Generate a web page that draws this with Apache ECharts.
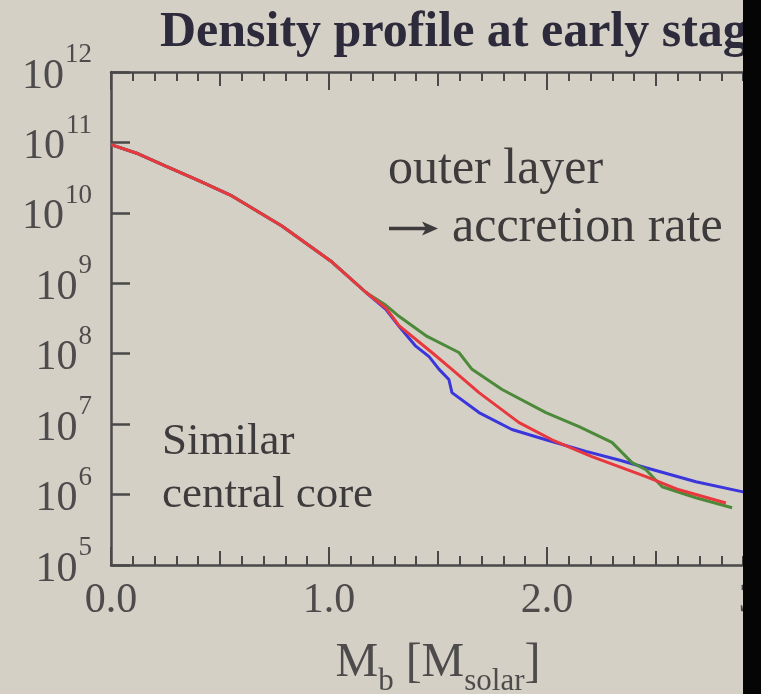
<!DOCTYPE html>
<html>
<head>
<meta charset="utf-8">
<script src="https://cdn.jsdelivr.net/npm/echarts@6/dist/echarts.min.js"></script>
<style>
html,body{margin:0;padding:0;background:#d5d0c6;}
#chart{width:761px;height:694px;}
</style>
</head>
<body>
<div id="chart"></div>
<script>
// Shared central core (all three models coincide here)
const coreMass = [0, 0.125, 0.251, 0.4, 0.555, 0.784, 1.014, 1.17];
const coreRho  = [9.3e10, 6.9e10, 4.6e10, 2.9e10, 1.74e10, 6.5e9, 2.0e9, 7.4e8];

// Outer layers
const redMass   = [1.26, 1.321, 1.472, 1.564, 1.688, 1.872, 2.023, 2.206, 2.454, 2.606, 2.821];
const redRho    = [4.5e8, 2.5e8, 1.04e8, 6.0e7, 2.8e7, 1.05e7, 6.0e6, 3.45e6, 1.8e6, 1.17e6, 7.6e5];

const greenMass = [1.26, 1.321, 1.45, 1.596, 1.656, 1.794, 1.995, 2.147, 2.298, 2.39, 2.454, 2.528, 2.683, 2.849];
const greenRho  = [4.9e8, 3.4e8, 1.76e8, 1.04e8, 6.0e7, 3.1e7, 1.46e7, 9.2e6, 5.5e6, 2.84e6, 2.25e6, 1.29e6, 9.0e5, 6.5e5];

const blueMass  = [1.26, 1.321, 1.398, 1.459, 1.505, 1.55, 1.564, 1.688, 1.839, 1.995, 2.179, 2.33, 2.454, 2.683, 2.894, 3.0];
const blueRho   = [4.3e8, 2.45e8, 1.28e8, 9.1e7, 6.0e7, 4.3e7, 2.8e7, 1.46e7, 8.4e6, 6.0e6, 4.1e6, 3.1e6, 2.4e6, 1.52e6, 1.1e6, 9.3e5];

const xTickLabels = ['0.0', '1.0', '2.0', '3.0'];

function pairs(m, r) { return m.map((v, i) => [v, r[i]]); }
const redData   = pairs(coreMass.concat(redMass),   coreRho.concat(redRho));
const greenData = pairs(coreMass.concat(greenMass), coreRho.concat(greenRho));
const blueData  = pairs(coreMass.concat(blueMass),  coreRho.concat(blueRho));

const FONT = '"Liberation Serif", "Times New Roman", serif';
const AXC = '#4a4848';
const TXT = '#3d3b3b';
const chart = echarts.init(document.getElementById('chart'), null, {renderer: 'canvas'});

const baseX = {
  type: 'value', min: 0, max: 3, gridIndex: 0,
  splitLine: {show: false}
};

chart.setOption({
  backgroundColor: '#d5d0c6',
  animation: false,
  grid: {left: 111, top: 72, width: 654, height: 493, containLabel: false, outerBoundsMode: 'none'},
  xAxis: [
    Object.assign({}, baseX, {
      position: 'bottom', interval: 1,
      axisLine: {show: true, lineStyle: {color: AXC, width: 2.5}},
      axisTick: {show: true, inside: true, length: 18, lineStyle: {color: AXC, width: 2}},
      minorTick: {show: true, splitNumber: 10, length: 9, lineStyle: {color: AXC, width: 2}},
      axisLabel: {show: true, margin: 15, fontFamily: FONT, fontSize: 42, color: '#4d4b4b',
        formatter: v => xTickLabels[Math.round(v)]},
      name: '{m|M}{sb|b}{m| [M}{sb|solar}{m|]}',
      nameLocation: 'middle', nameGap: 74,
      nameTextStyle: {
        rich: {
          m: {fontFamily: FONT, fontSize: 48, color: '#4d4b4b', lineHeight: 48},
          sb: {fontFamily: FONT, fontSize: 31, color: '#4d4b4b', lineHeight: 31, padding: [38, 0, 0, 0]}
        }
      }
    }),
    Object.assign({}, baseX, {
      position: 'bottom', interval: 0.5,
      axisLine: {show: false},
      axisTick: {show: true, inside: true, length: 14, lineStyle: {color: AXC, width: 2}},
      axisLabel: {show: false}
    }),
    Object.assign({}, baseX, {
      position: 'top', interval: 1,
      axisLine: {show: true, lineStyle: {color: AXC, width: 2.5}},
      axisTick: {show: true, inside: true, length: 18, lineStyle: {color: AXC, width: 2}},
      minorTick: {show: true, splitNumber: 10, length: 9, lineStyle: {color: AXC, width: 2}},
      axisLabel: {show: false}
    }),
    Object.assign({}, baseX, {
      position: 'top', interval: 0.5,
      axisLine: {show: false},
      axisTick: {show: true, inside: true, length: 14, lineStyle: {color: AXC, width: 2}},
      axisLabel: {show: false}
    })
  ],
  yAxis: {
    type: 'log', logBase: 10, min: 1e5, max: 1e12, interval: 1, splitNumber: 7,
    position: 'left',
    splitLine: {show: false},
    axisLine: {show: true, lineStyle: {color: AXC, width: 2.5}},
    axisTick: {show: true, inside: true, length: 19, lineStyle: {color: AXC, width: 2.5}},
    axisLabel: {
      show: true, margin: 19,
      formatter: v => '{b|10}{s|' + Math.round(Math.log10(v)) + '}',
      rich: {
        b: {fontFamily: FONT, fontSize: 42, color: '#4d4b4b', lineHeight: 42, padding: [9, 0, 0, 0]},
        s: {fontFamily: FONT, fontSize: 27, color: '#4d4b4b', lineHeight: 27, padding: [0, 0, 34, 1]}
      }
    }
  },
  series: [
    {type: 'line', name: 'blue', data: blueData, xAxisIndex: 0, showSymbol: false, symbol: 'none',
      lineStyle: {color: '#3a36dc', width: 3}, z: 3},
    {type: 'line', name: 'green', data: greenData, xAxisIndex: 0, showSymbol: false, symbol: 'none',
      lineStyle: {color: '#4c8a3a', width: 3}, z: 4},
    {type: 'line', name: 'red', data: redData, xAxisIndex: 0, showSymbol: false, symbol: 'none',
      lineStyle: {color: '#e8383e', width: 3}, z: 5}
  ],
  graphic: [
    {type: 'text', left: 160, top: 8, z: 10,
      style: {text: 'Density profile at early stage', font: 'bold 50px ' + FONT, fill: '#2d2b3b'}},
    {type: 'text', left: 388, top: 145, z: 10,
      style: {text: 'outer layer', font: '50px ' + FONT, fill: TXT}},
    {type: 'line', z: 10, shape: {x1: 389, y1: 228.5, x2: 428, y2: 228.5},
      style: {stroke: TXT, lineWidth: 3.5}},
    {type: 'polygon', z: 10, shape: {points: [[422, 221.5], [438, 228.5], [422, 235.5], [426, 228.5]]},
      style: {fill: TXT}},
    {type: 'text', left: 452, top: 203, z: 10,
      style: {text: 'accretion rate', font: '50px ' + FONT, fill: TXT}},
    {type: 'text', left: 162, top: 420, z: 10,
      style: {text: 'Similar', font: '45px ' + FONT, fill: TXT}},
    {type: 'text', left: 162, top: 473, z: 10,
      style: {text: 'central core', font: '45px ' + FONT, fill: TXT}},
    {type: 'rect', shape: {x: 743, y: 0, width: 18, height: 694}, z: 100,
      style: {fill: '#050505'}}
  ]
});
</script>
</body>
</html>
